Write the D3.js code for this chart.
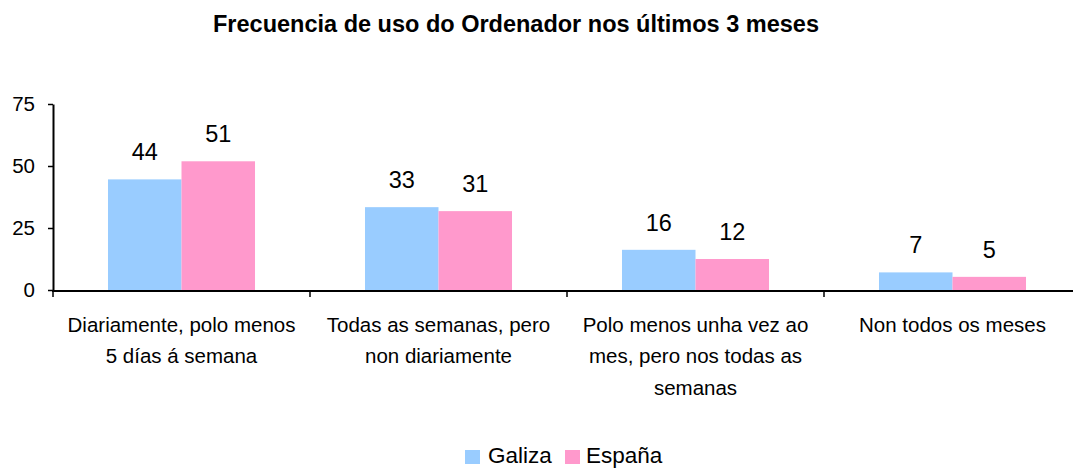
<!DOCTYPE html>
<html>
<head>
<meta charset="utf-8">
<script src="https://cdn.jsdelivr.net/npm/d3@7"></script>
<style>
  html, body { margin: 0; padding: 0; background: #fff; }
  svg text { font-family: "Liberation Sans", Arial, sans-serif; fill: #000; }
</style>
</head>
<body>
<svg id="chart" width="1073" height="468"></svg>
<script>
const title = "Frecuencia de uso do Ordenador nos últimos 3 meses";
const categories = [
  "Diariamente, polo menos|5 días á semana",
  "Todas as semanas, pero|non diariamente",
  "Polo menos unha vez ao|mes, pero nos todas as|semanas",
  "Non todos os meses"
];
const seriesNames = ["Galiza", "España"];
const galizaValues = [44.6, 33.4, 16.2, 7.1];
const espanaValues = [51.9, 31.8, 12.5, 5.3];
const yTicks = [0, 25, 50, 75];
const colors = ["#99CCFF", "#FF99CC"];

const values = [galizaValues, espanaValues];
const svg = d3.select("#chart");

const x = d3.scaleBand().domain(categories).range([53, 1081]).padding(0);
const xs = d3.scaleBand().domain(seriesNames).range([0, x.bandwidth()])
  .paddingInner(0).paddingOuter(0.748);
const y = d3.scaleLinear().domain([0, 75]).range([290, 104]);

// title
svg.append("text")
  .attr("x", 516).attr("y", 32)
  .attr("text-anchor", "middle")
  .style("font-weight", "bold").style("font-size", "23.5px")
  .text(title);

// bars
const groups = svg.append("g").selectAll("g")
  .data(categories).join("g")
  .attr("transform", d => `translate(${x(d)},0)`);

groups.selectAll("rect")
  .data((d, i) => seriesNames.map((s, j) => ({ s, j, v: values[j][i] })))
  .join("rect")
  .attr("x", d => xs(d.s))
  .attr("width", xs.bandwidth())
  .attr("y", d => y(d.v))
  .attr("height", d => y(0) - y(d.v))
  .attr("fill", d => colors[d.j]);

groups.selectAll("text.lbl")
  .data((d, i) => seriesNames.map((s, j) => ({ s, j, v: values[j][i] })))
  .join("text").attr("class", "lbl")
  .attr("x", d => xs(d.s) + xs.bandwidth() / 2)
  .attr("y", d => y(d.v) - 19)
  .attr("text-anchor", "middle")
  .style("font-size", "23.5px")
  .text(d => Math.floor(d.v));

// y axis
const yAxis = svg.append("g")
  .attr("transform", "translate(53,0)")
  .call(d3.axisLeft(y).tickValues(yTicks).tickSize(5).tickSizeOuter(0).tickPadding(13));
yAxis.select(".domain").attr("stroke", "#000").attr("stroke-width", 2);
yAxis.selectAll(".tick line").attr("stroke", "#000").attr("stroke-width", 1.5);
yAxis.selectAll(".tick text")
  .style("font-size", "20.5px")
  .style("font-family", "'Liberation Sans', Arial, sans-serif");

// x axis
const xAxis = svg.append("g");
xAxis.append("line")
  .attr("x1", 52).attr("x2", 1073)
  .attr("y1", 291).attr("y2", 291)
  .attr("stroke", "#000").attr("stroke-width", 2.2);
const boundaries = categories.map(c => x(c)).concat([x.range()[1]]);
xAxis.selectAll("line.tk")
  .data(boundaries.slice(0, 4)).join("line").attr("class", "tk")
  .attr("x1", d => d).attr("x2", d => d)
  .attr("y1", 291).attr("y2", 297)
  .attr("stroke", "#000").attr("stroke-width", 1.5);

// category labels
const catText = svg.append("g").selectAll("text")
  .data(categories).join("text")
  .attr("x", d => x(d) + x.bandwidth() / 2)
  .attr("y", 331.5)
  .attr("text-anchor", "middle")
  .style("font-size", "20.5px");
catText.selectAll("tspan")
  .data(d => d.split("|").map(t => ({ t, x: x(d) + x.bandwidth() / 2 })))
  .join("tspan")
  .attr("x", d => d.x)
  .attr("dy", (d, i) => i === 0 ? 0 : 31.8)
  .text(d => d.t);

// legend
const legendItems = [
  { name: seriesNames[0], color: colors[0], sx: 465, tx: 488 },
  { name: seriesNames[1], color: colors[1], sx: 565, tx: 586 }
];
const lg = svg.append("g");
lg.selectAll("rect").data(legendItems).join("rect")
  .attr("x", d => d.sx).attr("y", 450)
  .attr("width", 15).attr("height", 14)
  .attr("fill", d => d.color);
lg.selectAll("text").data(legendItems).join("text")
  .attr("x", d => d.tx).attr("y", 463)
  .style("font-size", "22.5px")
  .text(d => d.name);
</script>
</body>
</html>
